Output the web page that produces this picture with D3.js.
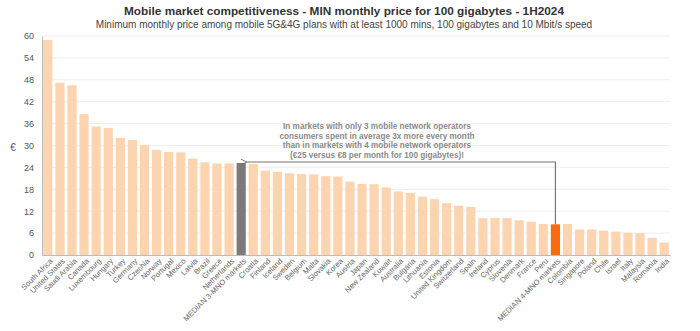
<!DOCTYPE html>
<html lang="en">
<head>
  <meta charset="UTF-8">
  <title>Mobile market competitiveness</title>
  <script src="https://d3js.org/d3.v7.min.js"></script>
  <style>
    body { margin: 0; background: #fff; }
    text { font-family: "Liberation Sans", Arial, sans-serif; }
    .title { font-size: 11.8px; font-weight: bold; fill: #333; }
    .subtitle { font-size: 10px; fill: #444; }
    .axis text { font-size: 9px; fill: #555; }
    .axis path, .axis line { stroke: #bbb; }
    .grid line { stroke: #eee; }
    .note { font-size: 8.2px; font-weight: bold; fill: #8a8a8a; }
  </style>
</head>
<body>
<svg width="700" height="331" id="chart"></svg>

<script>
  // countries sorted by price, medians included in place
  const countries = [
    'South Africa', 'United States', 'Saudi Arabia', 'Canada', 'Luxembourg', 'Hungary',
    'Turkey', 'Germany', 'Czechia', 'Norway', 'Portugal', 'Mexico', 'Latvia', 'Brazil',
    'Greece', 'Netherlands', 'MEDIAN 3-MNO markets', 'Croatia', 'Finland', 'Iceland',
    'Sweden', 'Belgium', 'Malta', 'Slovakia', 'Korea', 'Austria', 'Japan', 'New Zealand',
    'Kuwait', 'Australia', 'Bulgaria', 'Lithuania', 'Estonia', 'United Kingdom',
    'Switzerland', 'Spain', 'Ireland', 'Cyprus', 'Slovenia', 'Denmark', 'France', 'Peru',
    'MEDIAN 4-MNO markets', 'Colombia', 'Singapore', 'Poland', 'Chile', 'Israel', 'Italy',
    'Malaysia', 'Romania', 'India'
  ];

  // min monthly price in EUR for 100 GB
  const prices = [
    58.9, 47.2, 46.5, 38.6, 35.2, 34.8,
    32.1, 31.5, 30.1, 28.8, 28.2, 28.1, 26.4, 25.4,
    25.1, 25.1, 25.2, 24.9, 23.1, 22.8,
    22.4, 22.2, 22.1, 21.6, 21.5, 20.1, 19.5, 19.4,
    18.5, 17.4, 17.0, 16.0, 15.3, 14.2,
    13.5, 13.2, 10.1, 10.1, 10.1, 9.5, 9.1, 8.5,
    8.4, 8.5, 7.0, 7.0, 6.7, 6.4, 6.1,
    6.0, 4.7, 3.4
  ];

  const yTicks = [0, 6, 12, 18, 24, 30, 36, 42, 48, 54, 60];

  const median3 = 'MEDIAN 3-MNO markets';
  const median4 = 'MEDIAN 4-MNO markets';

  const data = countries.map((c, i) => ({ name: c, value: prices[i] }));

  const svg = d3.select('#chart');
  const margin = { top: 36, left: 42, right: 30, bottom: 76 };
  const width = 700, height = 331;

  const x = d3.scaleBand()
    .domain(countries)
    .range([margin.left, width - margin.right])
    .paddingInner(0.24)
    .paddingOuter(0.1);

  const y = d3.scaleLinear()
    .domain([0, 60])
    .range([height - margin.bottom, margin.top]);

  svg.append('text')
    .attr('class', 'title')
    .attr('x', 344).attr('y', 15)
    .attr('text-anchor', 'middle')
    .text('Mobile market competitiveness - MIN monthly price for 100 gigabytes - 1H2024');

  svg.append('text')
    .attr('class', 'subtitle')
    .attr('x', 344).attr('y', 28)
    .attr('text-anchor', 'middle')
    .text('Minimum monthly price among mobile 5G&4G plans with at least 1000 mins, 100 gigabytes and 10 Mbit/s speed');

  // horizontal grid
  svg.append('g')
    .attr('class', 'grid')
    .selectAll('line')
    .data(yTicks.slice(1))
    .enter()
    .append('line')
    .attr('x1', margin.left)
    .attr('x2', width - margin.right)
    .attr('y1', d => y(d))
    .attr('y2', d => y(d));

  svg.selectAll('.bar')
    .data(data)
    .enter()
    .append('rect')
    .attr('class', 'bar')
    .attr('x', d => x(d.name))
    .attr('y', d => y(d.value))
    .attr('width', x.bandwidth())
    .attr('height', d => y(0) - y(d.value))
    .attr('fill', d => d.name === median3 ? '#7b7b7b' : d.name === median4 ? '#fa6a10' : '#fcd4b0');

  svg.append('g')
    .attr('class', 'axis')
    .attr('transform', `translate(${margin.left},0)`)
    .call(d3.axisLeft(y).tickValues(yTicks).tickSize(0).tickPadding(8));

  const xAxis = svg.append('g')
    .attr('class', 'axis')
    .attr('transform', `translate(0,${y(0)})`)
    .call(d3.axisBottom(x).tickSize(0).tickPadding(4).tickSizeOuter(0));

  xAxis.selectAll('text')
    .attr('text-anchor', 'end')
    .style('font-size', '7.6px')
    .style('fill', '#666')
    .attr('dx', '-0.1em')
    .attr('dy', '0.6em')
    .attr('transform', 'rotate(-45)');

  svg.append('text')
    .attr('x', 13).attr('y', 151)
    .attr('text-anchor', 'middle')
    .attr('font-size', '10px')
    .attr('fill', '#555')
    .text('€');

  // connector between the two medians
  const m3 = data.find(d => d.name === median3);
  const m4 = data.find(d => d.name === median4);
  const lineY = y(m3.value) - 1;
  const x4 = x(median4) + x.bandwidth() / 2;
  const x3 = x(median3) + x.bandwidth();

  svg.append('defs').append('marker')
    .attr('id', 'arrow')
    .attr('viewBox', '0 0 10 10')
    .attr('refX', 1).attr('refY', 5)
    .attr('markerWidth', 6).attr('markerHeight', 6)
    .attr('orient', 'auto')
    .append('path')
    .attr('d', 'M9,1 L1,5 L9,9')
    .attr('fill', 'none')
    .attr('stroke', '#666')
    .attr('stroke-width', 1.2);

  svg.append('path')
    .attr('d', `M${x4},${y(m4.value)} V${lineY} H${x3 + 1}`)
    .attr('fill', 'none')
    .attr('stroke', '#777')
    .attr('stroke-width', 1.2)
    .attr('marker-end', 'url(#arrow)');

  const noteLines = [
    'In markets with only 3 mobile network operators',
    'consumers spent in average 3x more every month',
    'than in markets with 4 mobile network operators',
    `(€${Math.round(m3.value)} versus €${Math.round(m4.value)} per month for 100 gigabytes)!`
  ];

  svg.append('text')
    .attr('class', 'note')
    .attr('x', 377)
    .attr('y', 129)
    .attr('text-anchor', 'middle')
    .selectAll('tspan')
    .data(noteLines)
    .enter()
    .append('tspan')
    .attr('x', 377)
    .attr('dy', (d, i) => i === 0 ? 0 : 9.6)
    .text(d => d);
</script>
</body>
</html>
